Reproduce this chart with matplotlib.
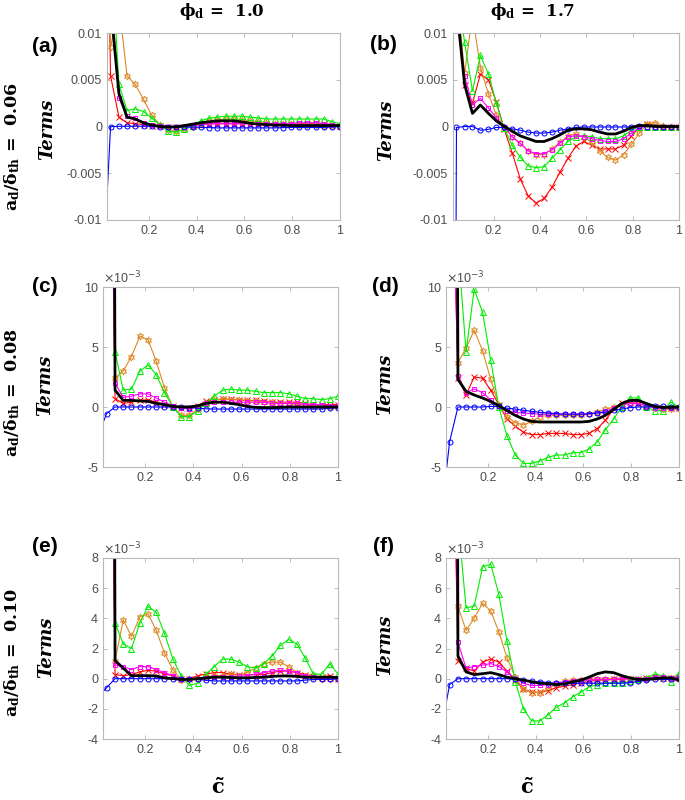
import matplotlib
matplotlib.use("Agg")
import matplotlib.pyplot as plt

plt.rcParams["mathtext.fontset"] = "custom"
plt.rcParams["mathtext.rm"] = "DejaVu Serif:bold"
plt.rcParams["mathtext.it"] = "DejaVu Serif:bold"
plt.rcParams["mathtext.bf"] = "DejaVu Serif:bold"
plt.rcParams["font.family"] = "Liberation Sans"

# progress variable grid (first point sits just left of the axis)
c = [0.006, 0.040, 0.075, 0.109, 0.143, 0.178, 0.212, 0.246, 0.280, 0.315,
     0.349, 0.383, 0.418, 0.452, 0.486, 0.521, 0.555, 0.589, 0.623, 0.658,
     0.692, 0.726, 0.761, 0.795, 0.829, 0.863, 0.898, 0.932, 0.966, 1.000]

# ---- panel (a): phi_d = 1.0, a_d/delta_th = 0.06
blue_a = [-0.017, 0, 0.00002, 0.00003, 0.00003, 0.00003, 0.00002, 0, 0, 0,
          -0.00005, -0.00005, -0.0001, -0.00012, -0.00015, -0.00015, -0.00015, -0.00015, -0.00015, -0.00015,
          -0.00015, -0.00015, -0.00012, -0.0001, -0.0001, -0.0001, -0.0001, -0.0001, -0.00005, 0]
red_a = [0.05, 0.0054, 0.001, 0.0004, 0.0003, 0.0002, 0.0001, 0.00005, 0, -0.00005,
         0, 0.0001, 0.0002, 0.0003, 0.0003, 0.0003, 0.0003, 0.0003, 0.0003, 0.0003,
         0.0003, 0.0003, 0.0003, 0.0003, 0.0003, 0.0003, 0.0004, 0.0003, 0.0002, 0.0001]
orange_a = [0.03, 0.0085, 0.013, 0.0054, 0.0045, 0.0029, 0.0012, 0.0002, -0.0004, -0.0005,
            -0.0003, 0, 0.0003, 0.0006, 0.0007, 0.0008, 0.0008, 0.0007, 0.0006, 0.0005,
            0.0004, 0.0003, 0.0003, 0.0003, 0.0002, 0.0002, 0.0002, 0.0001, 0.0001, 0]
green_a = [0.05, 0.02, 0.0045, 0.0017, 0.0019, 0.0016, 0.0009, 0.0002, -0.0005, -0.0006,
           -0.0003, 0.0001, 0.0006, 0.0009, 0.001, 0.0011, 0.0011, 0.0011, 0.001, 0.0009,
           0.0008, 0.0008, 0.0008, 0.0008, 0.0008, 0.0008, 0.0008, 0.0008, 0.0005, 0.0003]
magenta_a = [0.05, 0.015, 0.003, 0.0011, 0.0009, 0.0004, 0.0002, 0.0001, 0, -0.0001,
             0, 0.0001, 0.0002, 0.0003, 0.0003, 0.0003, 0.0003, 0.0003, 0.0003, 0.0003,
             0.0003, 0.0003, 0.0003, 0.0003, 0.0004, 0.0004, 0.0004, 0.0003, 0.0002, 0.0001]
black_a = [0.05, 0.013, 0.0035, 0.001, 0.0008, 0.0004, 0.00015, 0, -0.00005, -0.00005,
           0.0001, 0.00025, 0.0004, 0.0005, 0.0006, 0.0006, 0.0006, 0.0005, 0.00035, 0.00025,
           0.0002, 0.00015, 0.00015, 0.0001, 0.0001, 0.0001, 0.0001, 0.0001, 0.0001, 0.0001]

# ---- panel (b): phi_d = 1.7, a_d/delta_th = 0.06
blue_b = [-0.2, -0.0001, 0, 0, -0.0004, -0.0003, -0.0001, -0.0001, -0.00025, -0.0004,
          -0.0006, -0.0007, -0.0007, -0.0006, -0.0004, -0.00025, -0.0001, -0.00005, -0.00005, -0.00005,
          -0.00005, -0.00005, -0.00005, -0.00005, 0.0001, 0, 0, 0, 0, 0]
red_b = [0.05, 0.015, 0.0044, 0.0025, 0.0056, 0.005, 0.0026, -0.0003, -0.0028, -0.0056,
         -0.0074, -0.0082, -0.0077, -0.0065, -0.0049, -0.0034, -0.0021, -0.0016, -0.002, -0.0024,
         -0.0024, -0.0024, -0.002, -0.001, -0.0001, 0.0003, 0.0001, 0, -0.0001, 0]
orange_b = [0.05, 0.015, 0.0057, 0.012, 0.0063, 0.0035, 0.0012, 0, -0.0011, -0.0018,
            -0.0026, -0.003, -0.003, -0.0024, -0.0017, -0.001, -0.0008, -0.0011, -0.0017, -0.0026,
            -0.0033, -0.0036, -0.003, -0.0019, -0.0007, 0.0003, 0.0004, 0.0001, 0, 0]
green_b = [0.05, 0.015, 0.009, 0.0038, 0.0076, 0.0056, 0.0025, -0.0002, -0.002, -0.0033,
           -0.0042, -0.0044, -0.0043, -0.0034, -0.0025, -0.0016, -0.0011, -0.001, -0.0011, -0.0013,
           -0.0013, -0.0013, -0.001, -0.0004, 0, 0, 0, 0, 0, 0]
magenta_b = [0.05, 0.012, 0.0054, 0.0023, 0.003, 0.002, 0.0009, 0, -0.0011, -0.0018,
             -0.0026, -0.0029, -0.0029, -0.0025, -0.0018, -0.0011, -0.001, -0.0011, -0.0013, -0.0015,
             -0.0016, -0.0016, -0.0013, -0.0007, -0.0001, 0, 0, 0, 0, 0]
black_b = [0.05, 0.013, 0.0045, 0.0014, 0.0023, 0.0014, 0.0006, 0, -0.0005, -0.001,
           -0.0013, -0.0016, -0.0016, -0.0013, -0.0009, -0.0004, -0.00025, -0.00025, -0.00035, -0.0006,
           -0.0008, -0.0008, -0.0005, -0.0001, 0.0001, 0.0001, 0, 0, 0, 0]

# ---- panel (c): phi_d = 1.0, a_d/delta_th = 0.08
blue_c = [-0.0023, -0.00055, 0, 0, 0, 0, 0, 0, 0, 0,
          0, -0.00005, -0.0001, -0.00015, -0.00017, -0.00017, -0.00017, -0.00017, -0.00017, -0.00017,
          -0.00017, -0.00017, -0.00017, -0.00017, -0.00017, -0.00017, -0.00017, -0.00017, -0.0001, -0.00005]
red_c = [0.1, 0.05, 0.0007, 0.0003, 0.0004, 0.00055, 0.0006, 0.0004, 0.0002, 0.00005,
         -0.0001, -0.0001, 0.0001, 0.0005, 0.0006, 0.00065, 0.00065, 0.0006, 0.00055, 0.00055,
         0.0005, 0.0004, 0.0004, 0.0004, 0.0004, 0.0003, 0.0002, 0.0002, 0.0002, 0.0002]
orange_c = [0.1, 0.05, 0.0024, 0.003, 0.0042, 0.0059, 0.0056, 0.0038, 0.0016, 0,
            -0.0007, -0.0007, -0.0002, 0.0003, 0.0006, 0.00065, 0.0006, 0.0006, 0.0005, 0.0005,
            0.0004, 0.0004, 0.0003, 0.0003, 0.0002, 0.0002, 0.0001, 0.0001, 0, 0]
green_c = [0.1, 0.05, 0.0046, 0.0014, 0.0015, 0.003, 0.0035, 0.0027, 0.0012, 0,
           -0.0008, -0.0008, -0.0003, 0.0003, 0.0009, 0.0014, 0.0015, 0.0014, 0.0014, 0.0013,
           0.0012, 0.0012, 0.0012, 0.0011, 0.0009, 0.0007, 0.0007, 0.0006, 0.0007, 0.0009]
magenta_c = [0.1, 0.05, 0.002, 0.0008, 0.0009, 0.0011, 0.0011, 0.00075, 0.0004, 0.0001,
             -0.0001, -0.00015, 0.00005, 0.0003, 0.0004, 0.0004, 0.0004, 0.0004, 0.0004, 0.0004,
             0.0004, 0.0003, 0.0003, 0.0003, 0.0003, 0.0002, 0.0002, 0.0002, 0.0001, 0.0001]
black_c = [0.3, 0.2, 0.0014, 0.00055, 0.00055, 0.0005, 0.00047, 0.0003, 0.0002, 0.00005,
           0, 0, 0.0001, 0.0003, 0.0004, 0.0004, 0.0003, 0.0002, 0.00005, -0.00003,
           -0.00005, -0.00005, -0.00003, 0, 0, 0, 0, 0, 0, 0]

# ---- panel (d): phi_d = 1.7, a_d/delta_th = 0.08
blue_d = [-0.009, -0.0029, 0, 0, 0, 0, 0.00005, 0.00005, -0.0001, -0.00017,
          -0.00028, -0.00036, -0.00044, -0.0005, -0.00055, -0.0006, -0.0006, -0.0006, -0.00055, -0.0005,
          -0.00044, -0.00028, -0.00017, -0.00005, 0, 0, 0.00005, 0.00005, 0, 0]
red_d = [0.1, 0.03, 0.0024, 0.001, 0.0025, 0.0024, 0.0014, 0.0002, -0.001, -0.0016,
         -0.0021, -0.0023, -0.0023, -0.0022, -0.0022, -0.0022, -0.0023, -0.0023, -0.0022, -0.0018,
         -0.0011, -0.0002, 0.0003, 0.0004, 0.0003, 0.0001, 0, -0.0001, -0.0001, -0.0001]
orange_d = [0.1, 0.03, 0.0037, 0.0049, 0.0064, 0.0047, 0.0023, 0.0002, -0.0008, -0.0013,
            -0.0015, -0.0012, -0.0008, -0.0007, -0.0007, -0.0007, -0.0007, -0.0007, -0.0006, -0.0004,
            -0.0002, 0, 0.0002, 0.0003, 0.0003, 0.0001, -0.0001, -0.0002, -0.0002, -0.0002]
green_d = [0.1, 0.03, 0.0135, 0.0046, 0.0098, 0.0079, 0.0039, 0, -0.0024, -0.004,
           -0.0047, -0.0047, -0.0045, -0.0042, -0.004, -0.004, -0.0038, -0.0038, -0.0035, -0.0029,
           -0.0019, -0.001, 0, 0.00075, 0.00075, 0, -0.0003, -0.0003, 0.0004, 0]
magenta_d = [0.1, 0.03, 0.0026, 0.0012, 0.0015, 0.0012, 0.0006, 0.0001, -0.0003, -0.00045,
             -0.0005, -0.00055, -0.0006, -0.0006, -0.0006, -0.0006, -0.0006, -0.0006, -0.0006, -0.0005,
             -0.00035, -0.0001, 0.0002, 0.0003, 0.0003, 0.0001, -0.0001, -0.0001, -0.0001, -0.0001]
black_d = [0.3, 0.2, 0.0023, 0.0013, 0.001, 0.00075, 0.00047, 0.0001, -0.0003, -0.0007,
           -0.001, -0.0012, -0.00125, -0.00125, -0.00125, -0.00125, -0.00125, -0.00125, -0.0012, -0.001,
           -0.0007, -0.0002, 0.0003, 0.00055, 0.00055, 0.0003, 0.00005, -0.00003, -0.00003, 0]

# ---- panel (e): phi_d = 1.0, a_d/delta_th = 0.10
blue_e = [-0.0012, -0.0006, 0, 0, 0, 0, 0, 0, 0, 0,
          0, 0, -0.00005, -0.0001, -0.00015, -0.00015, -0.00015, -0.00015, -0.00015, -0.00015,
          -0.00015, -0.00015, -0.00015, -0.00015, -0.00015, -0.0001, -0.00005, -0.00005, -0.00005, 0]
red_e = [0.1, 0.05, 0.00027, 0.0002, 0.00027, 0.00045, 0.00055, 0.0005, 0.0003, 0.0002,
         0, 0, 0.0002, 0.0003, 0.0004, 0.0004, 0.0003, 0.00027, 0.00027, 0.00027,
         0.00027, 0.0004, 0.0005, 0.0005, 0.0004, 0.00027, 0.0002, 0.0001, 0.0002, 0]
orange_e = [0.1, 0.05, 0.0012, 0.0039, 0.0028, 0.0041, 0.0043, 0.0032, 0.0017, 0.0006,
            -0.0001, 0, 0, 0.0001, 0.0002, 0.0002, 0.0003, 0.0002, 0.0004, 0.0007,
            0.001, 0.0011, 0.0011, 0.0008, 0.0004, 0.0002, 0.0001, 0, 0, 0]
green_e = [0.1, 0.05, 0.0037, 0.0023, 0.002, 0.0037, 0.0048, 0.0044, 0.003, 0.0013,
           0.0002, -0.00045, -0.0003, 0.0003, 0.0008, 0.0013, 0.0013, 0.0011, 0.0008, 0.0007,
           0.001, 0.0015, 0.0022, 0.0026, 0.0023, 0.0014, 0.0003, 0.0003, 0.001, 0.0003]
magenta_e = [0.1, 0.05, 0.0009, 0.0008, 0.0006, 0.0008, 0.0008, 0.0006, 0.0004, 0.0002,
             0, 0, 0, 0.00005, 0.0001, 0.0001, 0.0001, 0.00015, 0.0002, 0.0003,
             0.0004, 0.0005, 0.00055, 0.0005, 0.0004, 0.0002, 0.0001, 0, 0, 0]
black_e = [0.3, 0.2, 0.0012, 0.0007, 0.0002, 0.0002, 0.0002, 0.00018, 0.00005, 0,
           -0.00005, -0.00005, 0, 0.00005, 0.0001, 0.0001, 0.00008, 0.00005, 0.00005, 0.00008,
           0.0001, 0.00015, 0.00018, 0.00018, 0.00015, 0.0001, 0.0001, 0.0001, 0.0001, 0.00008]

# ---- panel (f): phi_d = 1.7, a_d/delta_th = 0.10
blue_f = [-0.0033, -0.0004, 0, 0, 0, 0, 0, 0, 0, -0.00005,
          -0.0001, -0.00018, -0.0002, -0.00027, -0.0003, -0.0003, -0.0003, -0.0003, -0.0003, -0.0003,
          -0.0003, -0.0003, -0.0003, -0.00027, -0.00018, -0.0001, -0.00005, -0.00005, -0.00005, -0.00005]
red_f = [0.1, 0.03, 0.0012, 0.0007, 0.0005, 0.0011, 0.0013, 0.0011, 0.0005, -0.0001,
         -0.0007, -0.0009, -0.0009, -0.0008, -0.0006, -0.0005, -0.0004, -0.00027, -0.00018, -0.0001,
         -0.0001, -0.00005, -0.00005, 0, 0, 0.00005, 0.0001, 0.00005, 0.00005, 0.00005]
orange_f = [0.1, 0.03, 0.0048, 0.0032, 0.004, 0.005, 0.0045, 0.0031, 0.0014, 0.0001,
            -0.0007, -0.00093, -0.00093, -0.0007, -0.0003, -0.00018, -0.0001, -0.0001, -0.00005, 0,
            0, 0, 0, -0.00005, -0.0001, -0.00005, 0.0001, 0.0001, 0.00005, 0.0002]
green_f = [0.1, 0.03, 0.0105, 0.0047, 0.0048, 0.0074, 0.0076, 0.0056, 0.0025, -0.0002,
           -0.002, -0.0028, -0.0028, -0.0024, -0.0019, -0.0016, -0.0012, -0.0009, -0.00055, -0.0004,
           -0.0003, -0.00027, -0.00027, -0.00018, 0, 0.00005, 0.0003, 0.0002, -0.0002, 0.0004]
magenta_f = [0.1, 0.03, 0.0024, 0.0007, 0.0008, 0.0009, 0.001, 0.0008, 0.00045, 0,
             -0.0003, -0.00045, -0.00045, -0.0004, -0.0003, -0.0002, -0.00015, -0.0001, -0.0001, -0.00005,
             -0.00005, -0.00005, 0, 0, 0, 0, 0.0001, 0.0001, 0.00005, 0.0001]
black_f = [0.3, 0.2, 0.0015, 0.00045, 0.00027, 0.00033, 0.0004, 0.00027, 0.0001, 0,
           -0.0001, -0.0002, -0.0003, -0.00033, -0.0004, -0.00035, -0.0002, -0.0001, 0.0001, 0.00033,
           0.00045, 0.0004, 0.0002, 0.00005, -0.00005, -0.00005, 0, 0.00005, 0.00005, -0.0001]

panel_tags = ["(a)", "(b)", "(c)", "(d)", "(e)", "(f)"]
col_titles = [r"$\phi_d$ =  1.0", r"$\phi_d$ =  1.7"]
row_titles = [r"$a_d/\delta_{th}$ =  0.06", r"$a_d/\delta_{th}$ =  0.08", r"$a_d/\delta_{th}$ =  0.10"]

ylims = [(-0.01, 0.01), (-0.005, 0.01), (-0.004, 0.008)]
yticks = [[-0.01, -0.005, 0, 0.005, 0.01], [-0.005, 0, 0.005, 0.01],
          [-0.004, -0.002, 0, 0.002, 0.004, 0.006, 0.008]]
ytick_labels = [["-0.01", "-0.005", "0", "0.005", "0.01"], ["-5", "0", "5", "10"],
                ["-4", "-2", "0", "2", "4", "6", "8"]]
xticks = [0.2, 0.4, 0.6, 0.8, 1.0]
xtick_labels = ["0.2", "0.4", "0.6", "0.8", "1"]

ORANGE = "#dc8a27"
GRAY = "#4d4d4d"
W, H = 685, 800


def px_box(l, r, t, b):
    return [l / W, 1 - b / H, (r - l) / W, (b - t) / H]


def draw(ax, blue, red, orange, green, magenta, black):
    ax.plot(c, red, "-x", color="#ff0000", ms=4, lw=0.8, mew=0.7)
    ax.plot(c, orange, "-", marker=(6, 1, 0), color=ORANGE, ms=5, lw=0.8, mew=0.7, mfc="none")
    ax.plot(c, green, "-^", color="#00ee00", ms=4, lw=0.8, mew=0.7, mfc="none")
    ax.plot(c, magenta, "-s", color="#ff00ff", ms=3.2, lw=0.8, mew=0.7, mfc="none")
    ax.plot(c, blue, "-o", color="#0000ff", ms=3.6, lw=0.8, mew=0.7, mfc="none")
    ax.plot(c, black, "-", color="black", lw=2.0)


fig = plt.figure(figsize=(6.85, 8.0), dpi=100)

boxes = [px_box(107, 340, 33, 220), px_box(453, 679, 33, 220),
         px_box(103, 338, 287, 467), px_box(446, 679, 287, 467),
         px_box(103, 338, 558, 739), px_box(446, 679, 558, 739)]
data = [(blue_a, red_a, orange_a, green_a, magenta_a, black_a),
        (blue_b, red_b, orange_b, green_b, magenta_b, black_b),
        (blue_c, red_c, orange_c, green_c, magenta_c, black_c),
        (blue_d, red_d, orange_d, green_d, magenta_d, black_d),
        (blue_e, red_e, orange_e, green_e, magenta_e, black_e),
        (blue_f, red_f, orange_f, green_f, magenta_f, black_f)]
tag_pos = [(45, 47), (383, 45), (45, 287), (385, 287), (45, 547), (383, 547)]
terms_pos = [(47, 129), (386, 130), (45, 385), (385, 384), (46, 647), (385, 645)]

for i, box in enumerate(boxes):
    row = i // 2
    ax = fig.add_axes(box)
    draw(ax, *data[i])
    ax.set_xlim(0.025, 1.0)
    ax.set_ylim(*ylims[row])
    ax.set_xticks(xticks)
    ax.set_xticklabels(xtick_labels)
    ax.set_yticks(yticks[row])
    ax.set_yticklabels(ytick_labels[row])
    ax.tick_params(direction="in", top=True, right=True, length=3, width=0.6,
                   colors="#b0b0b0", labelcolor=GRAY, labelsize=9)
    for s in ax.spines.values():
        s.set_color("#b8b8b8")
        s.set_linewidth(0.8)
    if row > 0:
        ax.text(0.0, 1.005, r"$\times$10$^{\mathrm{-3}}$", transform=ax.transAxes,
                ha="left", va="bottom", fontsize=9, color=GRAY,
                math_fontfamily="dejavusans")
    tx, ty = tag_pos[i]
    fig.text(tx / W, 1 - ty / H, panel_tags[i], ha="center", va="center",
             fontsize=15, fontweight="bold", family="Liberation Sans")
    tx, ty = terms_pos[i]
    fig.text(tx / W, 1 - ty / H, "Terms", ha="center", va="center", rotation=90,
             fontsize=13, fontweight="bold", fontstyle="italic", family="DejaVu Serif")

for j, x in enumerate([222, 533]):
    fig.text(x / W, 1 - 12 / H, col_titles[j], ha="center", va="center",
             fontsize=12, fontweight="bold", family="DejaVu Serif")

for j, y in enumerate([146, 392, 652]):
    fig.text(12 / W, 1 - y / H, row_titles[j], ha="center", va="center", rotation=90,
             fontsize=12.5, fontweight="bold", family="DejaVu Serif")

for x in [218, 527]:
    fig.text(x / W, 1 - 788 / H, r"$\tilde{c}$", ha="center", va="center", fontsize=15)

fig.savefig("out.png", dpi=100)
